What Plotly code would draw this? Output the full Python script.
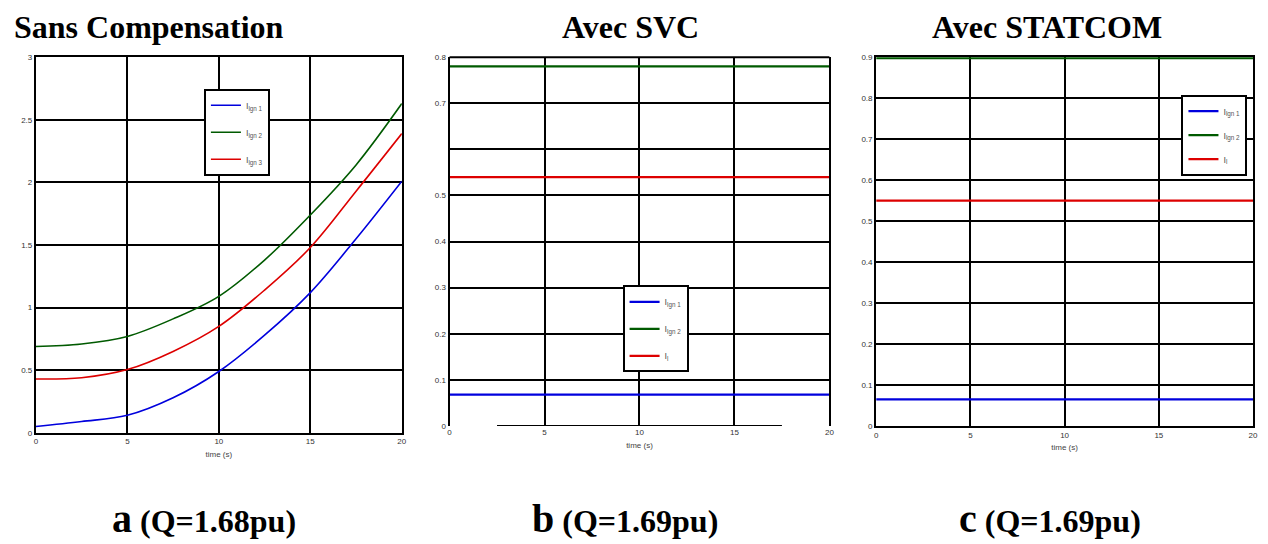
import plotly.graph_objects as go

# ---- data ----
t_a = [0, 2.5, 5, 7.5, 10, 12.5, 15, 17.5, 20]
a_lgn1 = [0.05, 0.09, 0.14, 0.28, 0.49, 0.78, 1.12, 1.55, 2.01]
a_lgn2 = [0.69, 0.71, 0.77, 0.91, 1.09, 1.38, 1.74, 2.14, 2.63]
a_lgn3 = [0.43, 0.44, 0.505, 0.65, 0.85, 1.14, 1.48, 1.93, 2.39]

t_bc = [0, 20]
b_lgn1 = [0.068, 0.068]
b_lgn2 = [0.78, 0.78]
b_lgn3 = [0.54, 0.54]

c_lgn1 = [0.065, 0.065]
c_lgn2 = [0.898, 0.898]
c_lgn3 = [0.55, 0.55]

names = ["I<sub>lgn 1</sub>", "I<sub>lgn 2</sub>", "I<sub>lgn 3</sub>"]
names_bc = ["I<sub>lgn 1</sub>", "I<sub>lgn 2</sub>", "I<sub>l</sub>"]
colors = ["#0000dd", "#005a00", "#dd0000"]

titles = ["Sans Compensation", "Avec SVC", "Avec STATCOM"]
letters = ["a", "b", "c"]
qvals = ["(Q=1.68pu)", "(Q=1.69pu)", "(Q=1.69pu)"]

x_ticks = [0, 5, 10, 15, 20]
a_yticks = [0, 0.5, 1, 1.5, 2, 2.5, 3]
a_ylabels = ["0", "0.5", "1", "1.5", "2", "2.5", "3"]
b_yticks = [0, 0.1, 0.2, 0.3, 0.4, 0.5, 0.6, 0.7, 0.8]
b_ylabels = ["0", "0.1", "0.2", "0.3", "0.4", "0.5", "", "0.7", "0.8"]
c_yticks = [0, 0.1, 0.2, 0.3, 0.4, 0.5, 0.6, 0.7, 0.8, 0.9]
c_ylabels = ["0", "0.1", "0.2", "0.3", "0.4", "0.5", "0.6", "0.7", "0.8", "0.9"]

# page body has an 8px margin: size the figure so it ends at the window's edge
OFF = 8
W, H = 1268 - OFF, 544 - OFF
def px(x):
    return (x - OFF) / W
def py(y):
    return 1 - (y - OFF) / H

fig = go.Figure()

panels = [
    ("x", "y", "legend", t_a, [a_lgn1, a_lgn2, a_lgn3], "spline", names),
    ("x2", "y2", "legend2", t_bc, [b_lgn1, b_lgn2, b_lgn3], "linear", names_bc),
    ("x3", "y3", "legend3", t_bc, [c_lgn1, c_lgn2, c_lgn3], "linear", names_bc),
]
for xa, ya, lg, tt, series, shape, nm in panels:
    for i, s in enumerate(series):
        fig.add_trace(go.Scatter(
            x=tt, y=s, mode="lines", name=nm[i],
            line=dict(color=colors[i], width=1.6 if shape == "spline" else 2.2, shape=shape, smoothing=1.0),
            xaxis=xa, yaxis=ya, legend=lg, legendgroup=lg + str(i),
        ))

tickfont = dict(family="Arial", size=8, color="#333")
common_x = dict(range=[0, 20], tickvals=x_ticks, ticktext=[str(v) for v in x_ticks],
                showgrid=True, gridcolor="black", gridwidth=2, zeroline=False,
                tickfont=tickfont, ticks="", linecolor="black", linewidth=2,
                title=dict(text="time (s)", font=dict(family="Arial", size=8, color="#444"), standoff=6))
common_y = dict(showgrid=True, gridcolor="black", gridwidth=2, zeroline=False,
                tickfont=tickfont, ticks="", linecolor="black", linewidth=2)

fig.update_layout(
    width=W, height=H, margin=dict(l=0, r=0, t=0, b=0),
    plot_bgcolor="white", paper_bgcolor="white", showlegend=True,
    xaxis=dict(domain=[px(34), px(402)], anchor="y", showline=True, mirror=True, **common_x),
    yaxis=dict(domain=[py(436), py(54)], anchor="x", range=[0, 3], tickvals=a_yticks, ticktext=a_ylabels,
               showline=True, mirror=True, **common_y),
    xaxis2=dict(domain=[px(450), px(832)], anchor="y2", showline=False, **common_x),
    yaxis2=dict(domain=[py(429), py(54)], anchor="x2", range=[0, 0.8], tickvals=b_yticks, ticktext=b_ylabels,
                showline=True, mirror=True, **common_y),
    xaxis3=dict(domain=[px(879), px(1258)], anchor="y3", showline=True, mirror=True, **common_x),
    yaxis3=dict(domain=[py(429), py(54)], anchor="x3", range=[0, 0.9], tickvals=c_yticks, ticktext=c_ylabels,
                showline=True, mirror=True, **common_y),
)

legfont = dict(family="Arial", size=9, color="#555")
fig.update_layout(
    legend=dict(x=px(203), y=py(86), xanchor="left", yanchor="top", bgcolor="white",
                bordercolor="black", borderwidth=2, font=legfont, tracegroupgap=8, itemwidth=30),
    legend2=dict(x=px(624), y=py(286), xanchor="left", yanchor="top", bgcolor="white",
                 bordercolor="black", borderwidth=2, font=legfont, tracegroupgap=8, itemwidth=30),
    legend3=dict(x=px(1186), y=py(92), xanchor="left", yanchor="top", bgcolor="white",
                 bordercolor="black", borderwidth=2, font=legfont, tracegroupgap=5, itemwidth=30),
)

# frame pieces for panel b (top line and partial bottom line)
fig.add_shape(type="line", xref="x2 domain", yref="y2 domain", x0=0, x1=1, y0=1, y1=1,
              line=dict(color="black", width=2))
fig.add_shape(type="line", xref="x2", yref="y2", x0=2.5, x1=17.5, y0=0, y1=0,
              line=dict(color="black", width=2))

serif = "Liberation Serif"
title_pos = [(10, "left"), (632, "center"), (1051, "center")]
for (x, anc), ttl in zip(title_pos, titles):
    fig.add_annotation(text="<b>" + ttl + "</b>", x=px(x), y=py(23), xref="paper", yref="paper",
                       xanchor=anc, yanchor="middle", showarrow=False,
                       font=dict(family=serif, size=32, color="black"))

bottom_pos = [203, 626, 1054]
for x, L, q in zip(bottom_pos, letters, qvals):
    fig.add_annotation(text="<b><span style='font-size:40px'>" + L + "</span> " + q + "</b>",
                       x=px(x), y=py(523), xref="paper", yref="paper",
                       xanchor="center", yanchor="middle", showarrow=False,
                       font=dict(family=serif, size=32, color="black"))

fig.write_html("out.html")
